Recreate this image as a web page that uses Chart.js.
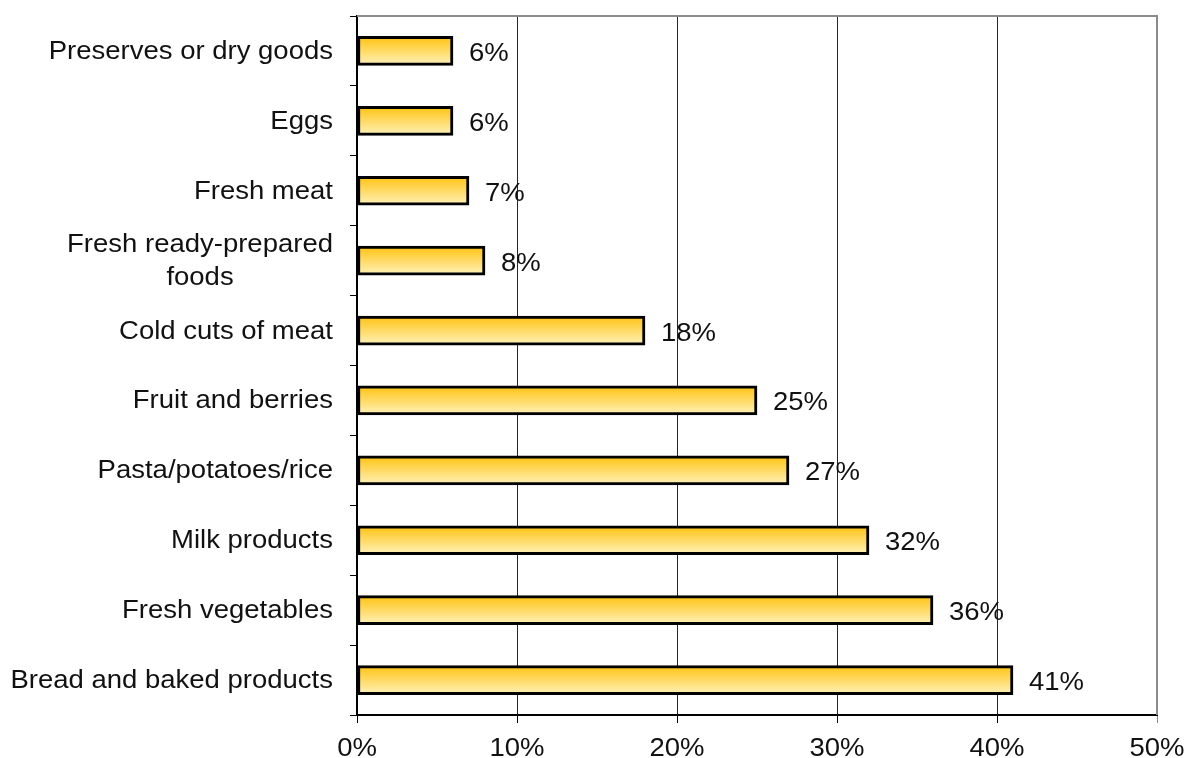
<!DOCTYPE html>
<html>
<head>
  <title>Food categories</title>
  <script src="https://cdn.jsdelivr.net/npm/chart.js"></script>
  <style>
    body { margin: 0; background: #fff; }
    #wrap { width: 1189px; height: 758px; }
  </style>
</head>
<body>
<div id="wrap"><canvas id="chart"></canvas></div>
<script>
  const categories = [
    'Preserves or dry goods',
    'Eggs',
    'Fresh meat',
    ['Fresh ready-prepared', 'foods'],
    'Cold cuts of meat',
    'Fruit and berries',
    'Pasta/potatoes/rice',
    'Milk products',
    'Fresh vegetables',
    'Bread and baked products'
  ];
  const values = [6, 6, 7, 8, 18, 25, 27, 32, 36, 41];
  const xTicks = [0, 10, 20, 30, 40, 50];

  const FONT = '25px "Liberation Sans", Arial, sans-serif';
  const STRETCH = 1.1; // text in the picture is a bit wide
  const BAR_H = 29;

  function stretchedText(ctx, text, x, y, align) {
    ctx.save();
    ctx.translate(x, y);
    ctx.scale(STRETCH, 1);
    ctx.textAlign = align;
    ctx.fillText(text, 0, 0);
    ctx.restore();
  }

  function barGradient(c) {
    const chart = c.chart;
    const ys = chart.scales && chart.scales.y;
    const fallback = '#FFD95A';
    if (!ys || c.dataIndex === undefined) return fallback;
    const y = ys.getPixelForValue(c.dataIndex);
    if (!isFinite(y)) return fallback;
    const g = chart.ctx.createLinearGradient(0, y - BAR_H / 2, 0, y + BAR_H / 2);
    g.addColorStop(0, '#FFC20F');
    g.addColorStop(1, '#FFF2BC');
    return g;
  }

  const textPlugin = {
    id: 'texts',
    afterDraw(chart) {
      const ctx = chart.ctx;
      const area = chart.chartArea;
      const xs = chart.scales.x;
      const ys = chart.scales.y;

      // top and right frame
      ctx.save();
      ctx.strokeStyle = '#8c8c8c';
      ctx.lineWidth = 2;
      ctx.beginPath();
      ctx.moveTo(area.left, area.top);
      ctx.lineTo(area.right, area.top);
      ctx.lineTo(area.right, area.bottom);
      ctx.stroke();
      ctx.restore();

      ctx.save();
      ctx.font = FONT;
      ctx.fillStyle = '#111';
      ctx.textBaseline = 'alphabetic';

      // category labels
      categories.forEach((lab, i) => {
        const y = ys.getPixelForValue(i);
        const right = area.left - 24;
        if (Array.isArray(lab)) {
          const w = Math.max(...lab.map(t => ctx.measureText(t).width)) * STRETCH;
          const cx = right - w / 2;
          lab.forEach((t, k) => {
            stretchedText(ctx, t, cx, y + 8 + (k - (lab.length - 1) / 2) * 33, 'center');
          });
        } else {
          stretchedText(ctx, lab, right, y + 8, 'right');
        }
      });

      // value labels
      const meta = chart.getDatasetMeta(0);
      meta.data.forEach((bar, i) => {
        stretchedText(ctx, values[i] + '%', bar.x + 16, bar.y + 10, 'left');
      });

      // x tick labels
      xTicks.forEach(v => {
        stretchedText(ctx, v + '%', xs.getPixelForValue(v), area.bottom + 41, 'center');
      });
      ctx.restore();
    }
  };

  new Chart(document.getElementById('chart'), {
    type: 'bar',
    data: {
      labels: categories,
      datasets: [{
        data: values,
        backgroundColor: barGradient,
        borderColor: '#000',
        borderWidth: 3,
        borderSkipped: false,
        barThickness: BAR_H
      }]
    },
    options: {
      indexAxis: 'y',
      responsive: true,
      maintainAspectRatio: false,
      animation: false,
      layout: { padding: { top: 16, right: 32, left: 0, bottom: 0 } },
      plugins: {
        legend: { display: false },
        tooltip: { enabled: false }
      },
      scales: {
        x: {
          min: 0,
          max: 50,
          ticks: { stepSize: 10, display: false },
          grid: {
            color: c => (c.tick && c.tick.value === 50) ? 'rgba(0,0,0,0)' : '#262626',
            tickColor: c => (c.tick && c.tick.value === 50) ? '#8c8c8c' : '#000',
            lineWidth: 1,
            tickLength: 8
          },
          border: { color: '#000', width: 2 },
          afterFit: s => { s.height = 43; }
        },
        y: {
          ticks: { display: false },
          grid: {
            drawOnChartArea: false,
            offset: true,
            color: '#000',
            tickLength: 7
          },
          border: { color: '#000', width: 2 },
          afterFit: s => { s.width = 357; }
        }
      }
    },
    plugins: [textPlugin]
  });
</script>
</body>
</html>
